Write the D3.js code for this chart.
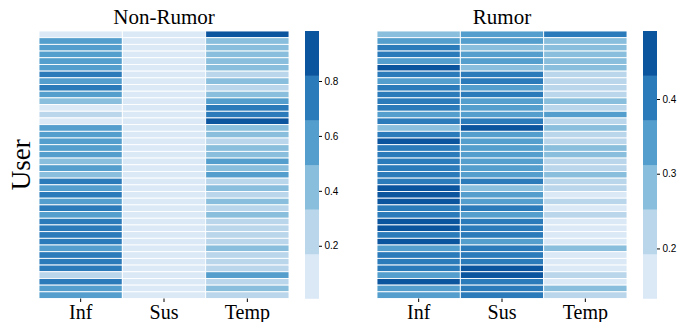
<!DOCTYPE html>
<html>
<head>
<meta charset="utf-8">
<script src="https://cdn.jsdelivr.net/npm/d3@7"></script>
<style>
  html, body { margin: 0; padding: 0; background: #fff; }
  svg { display: block; }
</style>
</head>
<body>
<svg id="chart" width="678" height="322"></svg>
<script>
// Attention weights per user (40 users) over three factors.
const factors = ["Inf", "Sus", "Temp"];

const nonRumorInf = [0.010, 0.58, 0.56, 0.57, 0.59, 0.60, 0.70, 0.58, 0.71, 0.61,
                     0.42, 0.14, 0.24, 0.07, 0.60, 0.59, 0.64, 0.58, 0.60, 0.45,
                     0.58, 0.44, 0.70, 0.61, 0.72, 0.62, 0.73, 0.60, 0.70, 0.72,
                     0.74, 0.71, 0.59, 0.72, 0.70, 0.73, 0.32, 0.71, 0.61, 0.63];
const nonRumorSus = [0.008, 0.05, 0.05, 0.04, 0.05, 0.05, 0.05, 0.05, 0.04, 0.05,
                     0.05, 0.06, 0.05, 0.05, 0.05, 0.05, 0.05, 0.05, 0.05, 0.05,
                     0.05, 0.05, 0.05, 0.05, 0.05, 0.04, 0.05, 0.05, 0.05, 0.05,
                     0.04, 0.05, 0.05, 0.05, 0.05, 0.05, 0.06, 0.05, 0.05, 0.05];
const nonRumorTemp = [0.982, 0.37, 0.39, 0.39, 0.36, 0.35, 0.25, 0.37, 0.25, 0.34,
                      0.53, 0.80, 0.71, 0.88, 0.35, 0.36, 0.31, 0.37, 0.35, 0.50,
                      0.37, 0.51, 0.25, 0.34, 0.23, 0.34, 0.22, 0.35, 0.25, 0.23,
                      0.22, 0.24, 0.36, 0.23, 0.25, 0.22, 0.62, 0.24, 0.34, 0.32];

const rumorInf = [0.27, 0.36, 0.42, 0.39, 0.36, 0.44, 0.39, 0.36, 0.42, 0.40,
                  0.38, 0.41, 0.33, 0.39, 0.27, 0.41, 0.45, 0.39, 0.38, 0.42,
                  0.41, 0.39, 0.40, 0.47, 0.47, 0.44, 0.42, 0.41, 0.45, 0.46,
                  0.42, 0.491, 0.34, 0.41, 0.42, 0.40, 0.35, 0.44, 0.35, 0.37];
const rumorSus = [0.34, 0.35, 0.29, 0.33, 0.36, 0.28, 0.39, 0.41, 0.35, 0.38,
                  0.33, 0.36, 0.34, 0.39, 0.45, 0.36, 0.34, 0.34, 0.35, 0.35,
                  0.36, 0.34, 0.38, 0.30, 0.35, 0.36, 0.40, 0.36, 0.39, 0.38,
                  0.41, 0.36, 0.39, 0.42, 0.40, 0.45, 0.44, 0.40, 0.38, 0.41];
const rumorTemp = [0.39, 0.29, 0.29, 0.28, 0.28, 0.28, 0.22, 0.23, 0.23, 0.22,
                   0.29, 0.23, 0.33, 0.22, 0.28, 0.23, 0.21, 0.27, 0.27, 0.23,
                   0.23, 0.27, 0.22, 0.23, 0.18, 0.20, 0.18, 0.23, 0.16, 0.16,
                   0.17, 0.15, 0.27, 0.17, 0.18, 0.133, 0.21, 0.16, 0.27, 0.22];

const nonRumorTicks = [0.2, 0.4, 0.6, 0.8];
const rumorTicks = [0.2, 0.3, 0.4];

// Six-step Blues palette
const blues6 = ["#dbe9f6", "#bad6eb", "#89bedc", "#539ecd", "#2b7bba", "#0b559f"];

const panels = [
  { title: "Non-Rumor", cols: [nonRumorInf, nonRumorSus, nonRumorTemp], ticks: nonRumorTicks,
    x0: 39, x1: 289, cbX: 305 },
  { title: "Rumor", cols: [rumorInf, rumorSus, rumorTemp], ticks: rumorTicks,
    x0: 377, x1: 627, cbX: 643 }
];

const plotTop = 31, plotBottom = 298.5, cbW = 14;
const svg = d3.select("#chart");
const serif = "'Liberation Serif', 'Times New Roman', serif";
const sans = "'Liberation Sans', Arial, sans-serif";

panels.forEach(p => {
  const n = p.cols[0].length;
  const cells = [];
  p.cols.forEach((col, ci) => col.forEach((v, ri) => cells.push({ f: factors[ci], r: ri, v })));
  const all = p.cols.flat();
  const ext = d3.extent(all);

  const x = d3.scaleBand().domain(factors).range([p.x0, p.x1]);
  const y = d3.scaleBand().domain(d3.range(n)).range([plotTop, plotBottom]);
  const color = d3.scaleQuantize().domain(ext).range(blues6);

  const g = svg.append("g");
  g.selectAll("rect").data(cells).join("rect")
    .attr("x", d => x(d.f))
    .attr("y", d => y(d.r))
    .attr("width", x.bandwidth())
    .attr("height", y.bandwidth())
    .attr("fill", d => color(d.v))
    .attr("stroke", "#fff")
    .attr("stroke-width", 0.9);

  // x axis
  const xAxis = svg.append("g")
    .attr("transform", `translate(0,${plotBottom})`)
    .call(d3.axisBottom(x).tickSize(3.5).tickPadding(3));
  xAxis.select(".domain").remove();
  xAxis.selectAll(".tick line").attr("stroke", "#000").attr("stroke-width", 1);
  xAxis.selectAll(".tick text")
    .attr("font-family", serif).attr("font-size", 20).attr("fill", "#000");

  // title
  svg.append("text")
    .attr("x", (p.x0 + p.x1) / 2).attr("y", 24)
    .attr("text-anchor", "middle")
    .attr("font-family", serif).attr("font-size", 21)
    .text(p.title);

  // colorbar
  const cb = d3.scaleLinear().domain(ext).range([plotBottom, plotTop]);
  const step = (ext[1] - ext[0]) / blues6.length;
  const levels = blues6.map((c, i) => ({ c, lo: ext[0] + i * step, hi: ext[0] + (i + 1) * step }));
  svg.append("g").selectAll("rect").data(levels).join("rect")
    .attr("x", p.cbX)
    .attr("y", d => cb(d.hi))
    .attr("width", cbW)
    .attr("height", d => cb(d.lo) - cb(d.hi) + 0.3)
    .attr("fill", d => d.c);

  const cbAxis = svg.append("g")
    .attr("transform", `translate(${p.cbX + cbW},0)`)
    .call(d3.axisRight(cb).tickValues(p.ticks).tickFormat(d3.format(".1f")).tickSize(3).tickPadding(2.5));
  cbAxis.select(".domain").remove();
  cbAxis.selectAll(".tick line").attr("stroke", "#000").attr("stroke-width", 1);
  cbAxis.selectAll(".tick text")
    .attr("font-family", sans).attr("font-size", 10).attr("fill", "#000");
});

// shared y label
svg.append("text")
  .attr("transform", `translate(30,${(plotTop + plotBottom) / 2}) rotate(-90)`)
  .attr("text-anchor", "middle")
  .attr("font-family", serif).attr("font-size", 27)
  .text("User");
</script>
</body>
</html>
